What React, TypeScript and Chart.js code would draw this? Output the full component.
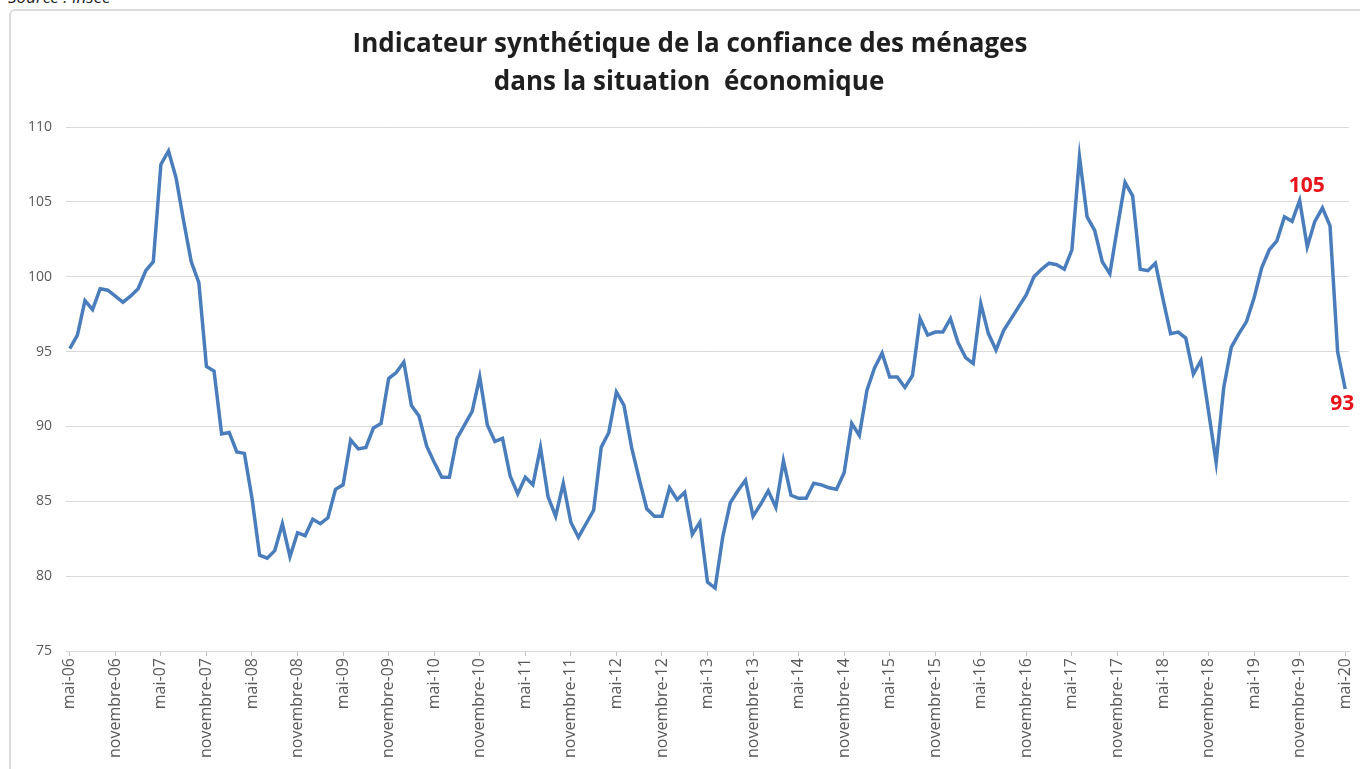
import React, { useEffect, useRef } from "react";
import { Chart, registerables } from "chart.js";

Chart.register(...registerables);

const monthNames = [
  "janvier", "février", "mars", "avril", "mai", "juin",
  "juillet", "août", "septembre", "octobre", "novembre", "décembre",
];
const startYear = 2006;
const startMonth = 4; // mai
const monthCount = 169;

const categories: string[] = [];
for (let i = 0; i < monthCount; i++) {
  const m = (startMonth + i) % 12;
  const y = startYear + Math.floor((startMonth + i) / 12);
  categories.push(`${monthNames[m]}-${String(y % 100).padStart(2, "0")}`);
}

const confidence = [
  95.2, 96.1, 98.4, 97.8, 99.2, 99.1, 98.7, 98.3, 98.7, 99.2, 100.4, 101.0,
  107.5, 108.4, 106.6, 103.7, 101.0, 99.6, 94.0, 93.7, 89.5, 89.6, 88.3, 88.2,
  85.2, 81.4, 81.2, 81.7, 83.5, 81.3, 82.9, 82.7, 83.8, 83.5, 83.9, 85.8,
  86.1, 89.1, 88.5, 88.6, 89.9, 90.2, 93.2, 93.6, 94.3, 91.4, 90.7, 88.7,
  87.6, 86.6, 86.6, 89.2, 90.1, 91.0, 93.3, 90.1, 89.0, 89.2, 86.7, 85.5,
  86.6, 86.1, 88.6, 85.3, 84.0, 86.2, 83.6, 82.6, 83.5, 84.4, 88.6, 89.6,
  92.3, 91.4, 88.6, 86.5, 84.5, 84.0, 84.0, 85.9, 85.1, 85.6, 82.8, 83.6,
  79.6, 79.2, 82.6, 84.9, 85.7, 86.4, 84.0, 84.8, 85.7, 84.6, 87.7, 85.4,
  85.2, 85.2, 86.2, 86.1, 85.9, 85.8, 86.9, 90.2, 89.4, 92.4, 93.9, 94.9,
  93.3, 93.3, 92.6, 93.4, 97.2, 96.1, 96.3, 96.3, 97.2, 95.6, 94.6, 94.2,
  98.2, 96.2, 95.1, 96.4, 97.2, 98.0, 98.8, 100.0, 100.5, 100.9, 100.8, 100.5,
  101.8, 108.0, 104.0, 103.1, 101.0, 100.2, 103.3, 106.3, 105.4, 100.5, 100.4, 100.9,
  98.5, 96.2, 96.3, 95.9, 93.5, 94.4, 91.0, 87.6, 92.6, 95.3, 96.2, 97.0,
  98.6, 100.6, 101.8, 102.4, 104.0, 103.7, 105.1, 102.0, 103.7, 104.6, 103.4, 95.0,
  92.5,
];

const yTicks = [75, 80, 85, 90, 95, 100, 105, 110];

const titleLines = [
  "Indicateur synthétique de la confiance des ménages",
  "dans la situation  économique",
];

const callouts = [
  { index: 162, text: "105", place: "above" },
  { index: 168, text: "93", place: "below" },
];

const titlePlugin = {
  id: "customTitle",
  afterDraw(chart: any) {
    const ctx = chart.ctx;
    ctx.save();
    ctx.fillStyle = "#1f1f1f";
    ctx.font = "bold 26px 'Open Sans'";
    ctx.textAlign = "center";
    ctx.textBaseline = "middle";
    ctx.fillText(titleLines[0], 690, 45);
    ctx.fillText(titleLines[1], 689, 83);
    ctx.restore();
  },
};

const calloutPlugin = {
  id: "callouts",
  afterDatasetsDraw(chart: any) {
    const ctx = chart.ctx;
    const xs = chart.scales.x;
    const ys = chart.scales.y;
    ctx.save();
    ctx.fillStyle = "#e8141c";
    ctx.font = "bold 21px 'Open Sans'";
    ctx.textBaseline = "middle";
    ctx.textAlign = "center";
    callouts.forEach((c) => {
      const px = xs.getPixelForValue(c.index);
      const py = ys.getPixelForValue(confidence[c.index]);
      if (c.place === "above") ctx.fillText(c.text, px + 7, py - 14);
      else ctx.fillText(c.text, px - 3, py + 15);
    });
    ctx.restore();
  },
};

export default function App() {
  const canvasRef = useRef<HTMLCanvasElement | null>(null);

  useEffect(() => {
    const canvas = canvasRef.current;
    if (!canvas) return;
    const chart = new Chart(canvas, {
      type: "line",
      data: {
        labels: categories,
        datasets: [
          {
            data: confidence,
            borderColor: "#4a7dbb",
            borderWidth: 3.5,
            pointRadius: 0,
            tension: 0,
            fill: false,
          },
        ],
      },
      options: {
        animation: false,
        responsive: false,
        devicePixelRatio: 1,
        layout: { padding: { left: 0, top: 127, right: 11, bottom: 0 } },
        plugins: {
          legend: { display: false },
          title: { display: false },
          tooltip: { enabled: false },
        },
        scales: {
          x: {
            type: "category",
            offset: true,
            afterFit: (s: any) => {
              s.height = 118;
              s.paddingLeft = 0;
              s.paddingRight = 0;
            },
            grid: {
              drawOnChartArea: false,
              drawTicks: true,
              tickLength: 5,
              tickColor: (c: any) => (c.index % 6 === 0 ? "#bfbfbf" : "rgba(0,0,0,0)"),
            },
            border: { display: true, color: "#d9d9d9", width: 1 },
            ticks: {
              autoSkip: false,
              maxRotation: 90,
              minRotation: 90,
              padding: 2,
              color: "#595959",
              font: { family: "'Open Sans'", size: 16 },
              callback: (_v: any, i: number) => (i % 6 === 0 ? categories[i] : ""),
            },
          },
          y: {
            min: 75,
            max: 110,
            afterFit: (s: any) => {
              s.width = 66;
            },
            afterBuildTicks: (s: any) => {
              s.ticks = yTicks.map((v) => ({ value: v }));
            },
            grid: { color: "#d9d9d9", lineWidth: 1, drawTicks: false },
            border: { display: false },
            ticks: {
              padding: 14,
              color: "#595959",
              font: { family: "'Open Sans'", size: 14 },
            },
          },
        },
      },
      plugins: [titlePlugin, calloutPlugin],
    });
    return () => chart.destroy();
  }, []);

  return (
    <div
      style={{
        position: "fixed",
        left: 0,
        top: 0,
        width: 1360,
        height: 769,
        background: "#ffffff",
        overflow: "hidden",
      }}
    >
      <div
        style={{
          position: "absolute",
          left: 8,
          top: -13,
          fontFamily: "'Open Sans'",
          fontStyle: "italic",
          fontSize: 17,
          color: "#222",
          lineHeight: "20px",
        }}
      >
        Source : Insee
      </div>
      <div
        style={{
          position: "absolute",
          left: 9,
          top: 9,
          width: 1400,
          height: 800,
          border: "2px solid #dcdcdc",
          borderRadius: 6,
        }}
      />
      <canvas
        ref={canvasRef}
        width={1360}
        height={769}
        style={{ position: "absolute", left: 0, top: 0, width: 1360, height: 769 }}
      />
    </div>
  );
}
